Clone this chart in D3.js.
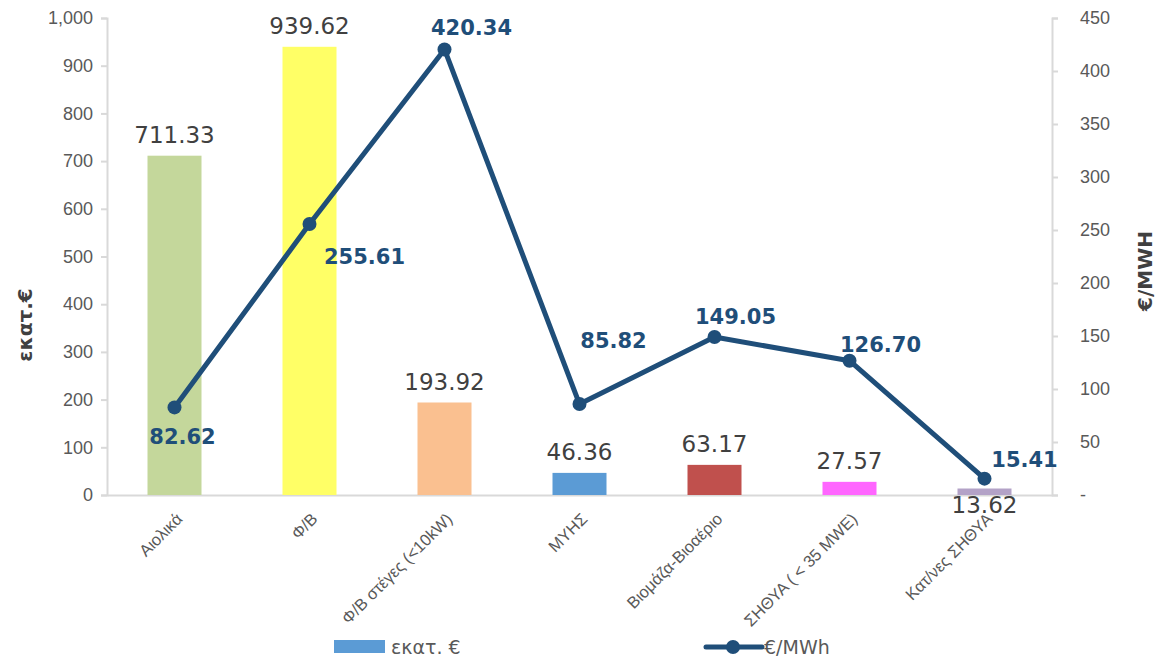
<!DOCTYPE html>
<html><head><meta charset="utf-8">
<script src="https://cdn.jsdelivr.net/npm/d3@7"></script>
<style>body{margin:0;background:#fff;}svg{display:block;font-family:"DejaVu Sans",Verdana,sans-serif;}</style>
</head><body>
<svg id="c" width="1168" height="660"></svg>
<script>
const categories = ["Αιολικά","Φ/Β","Φ/Β στέγες (<10kW)","ΜΥΗΣ","Βιομάζα-Βιοαέριο","ΣΗΘΥΑ ( < 35 MWE)","Κατ/νες ΣΗΘΥΑ"];
const costValues = [711.33, 939.62, 193.92, 46.36, 63.17, 27.57, 13.62];
const priceValues = [82.62, 255.61, 420.34, 85.82, 149.05, 126.70, 15.41];
const leftTicks = [0,100,200,300,400,500,600,700,800,900,1000];
const rightTicks = [0,50,100,150,200,250,300,350,400,450];
const barColors = ["#c4d79b","#ffff66","#fac090","#5b9bd5","#c0504d","#ff66ff","#b3a2c7"];
const seriesNames = ["εκατ. €","€/MWh"];
const axisTitles = ["εκατ.€","€/MWH"];
// label offsets (style)
const lineLabelOffset = [[8,37],[55,40],[27,-14],[34,-56],[21,-13],[31,-9],[40,-12]];

const svg = d3.select("#c");
const m = {l:107, r:1052, t:18, b:495};
const x = d3.scaleBand().domain(categories).range([m.l,m.r]).paddingInner(0.6).paddingOuter(0.3);
const yL = d3.scaleLinear().domain([0,1000]).range([m.b,m.t]);
const yR = d3.scaleLinear().domain([0,450]).range([m.b,m.t]);
const axisColor = "#d9d9d9", tickText = "#595959";

// left axis
const gL = svg.append("g").attr("transform",`translate(${m.l},0)`)
  .call(d3.axisLeft(yL).tickValues(leftTicks).tickFormat(d3.format(",")).tickSize(6).tickPadding(8));
// right axis
const gR = svg.append("g").attr("transform",`translate(${m.r},0)`)
  .call(d3.axisRight(yR).tickValues(rightTicks).tickFormat(d=>d===0?"-":d).tickSize(6).tickPadding(22));
[gL,gR].forEach(g=>{
  g.select(".domain").attr("stroke",axisColor).attr("stroke-width",2);
  g.selectAll(".tick line").attr("stroke",axisColor).attr("stroke-width",2);
  g.selectAll(".tick text").attr("fill",tickText).attr("font-size",18);
});
// bottom axis
const gB = svg.append("g").attr("transform",`translate(0,${m.b})`)
  .call(d3.axisBottom(x).tickSize(0).tickPadding(0));
gB.select(".domain").attr("stroke",axisColor).attr("stroke-width",2);
gB.selectAll(".tick text").attr("fill",tickText).attr("font-size",16.5)
  .attr("text-anchor","end").attr("dy",0)
  .attr("transform","translate(9,25) rotate(-45)");

// bars
svg.append("g").selectAll("rect").data(costValues).join("rect")
  .attr("x",(d,i)=>x(categories[i])).attr("width",x.bandwidth())
  .attr("y",d=>yL(d)).attr("height",d=>m.b-yL(d))
  .attr("fill",(d,i)=>barColors[i]);
svg.append("g").selectAll("text").data(costValues).join("text")
  .attr("x",(d,i)=>x(categories[i])+x.bandwidth()/2)
  .attr("y",(d,i)=> i===6 ? m.b+18 : yL(d)-13)
  .attr("text-anchor","middle").attr("font-size",23).attr("fill","#404040")
  .text(d=>d.toFixed(2));

// line
const lineColor = "#1f4e79";
const line = d3.line().x((d,i)=>x(categories[i])+x.bandwidth()/2).y(d=>yR(d));
svg.append("path").datum(priceValues).attr("d",line)
  .attr("fill","none").attr("stroke",lineColor).attr("stroke-width",5).attr("stroke-linejoin","round");
svg.append("g").selectAll("circle").data(priceValues).join("circle")
  .attr("cx",(d,i)=>x(categories[i])+x.bandwidth()/2).attr("cy",d=>yR(d)).attr("r",7).attr("fill",lineColor);
svg.append("g").selectAll("text").data(priceValues).join("text")
  .attr("x",(d,i)=>x(categories[i])+x.bandwidth()/2+lineLabelOffset[i][0])
  .attr("y",(d,i)=>yR(d)+lineLabelOffset[i][1])
  .attr("text-anchor","middle").attr("font-size",21).attr("font-weight","bold").attr("fill",lineColor)
  .text(d=>d.toFixed(2));

// axis titles
svg.append("text").attr("transform","translate(32,325) rotate(-90)").attr("text-anchor","middle")
  .attr("font-size",20).attr("font-weight","bold").attr("fill","#404040").text(axisTitles[0]);
svg.append("text").attr("transform","translate(1152,271) rotate(-90)").attr("text-anchor","middle")
  .attr("font-size",20).attr("font-weight","bold").attr("fill","#404040").text(axisTitles[1]);

// legend
const lg = svg.append("g");
lg.append("rect").attr("x",334).attr("y",640).attr("width",51).attr("height",13).attr("fill",barColors[3]);
lg.append("text").attr("x",391).attr("y",654).attr("font-size",19).attr("fill","#595959").text(seriesNames[0]);
lg.append("line").attr("x1",706).attr("x2",762).attr("y1",647).attr("y2",647).attr("stroke",lineColor).attr("stroke-width",5).attr("stroke-linecap","round");
lg.append("circle").attr("cx",733).attr("cy",647).attr("r",7).attr("fill",lineColor);
lg.append("text").attr("x",764).attr("y",654).attr("font-size",19).attr("fill","#595959").text(seriesNames[1]);
</script>
</body></html>
